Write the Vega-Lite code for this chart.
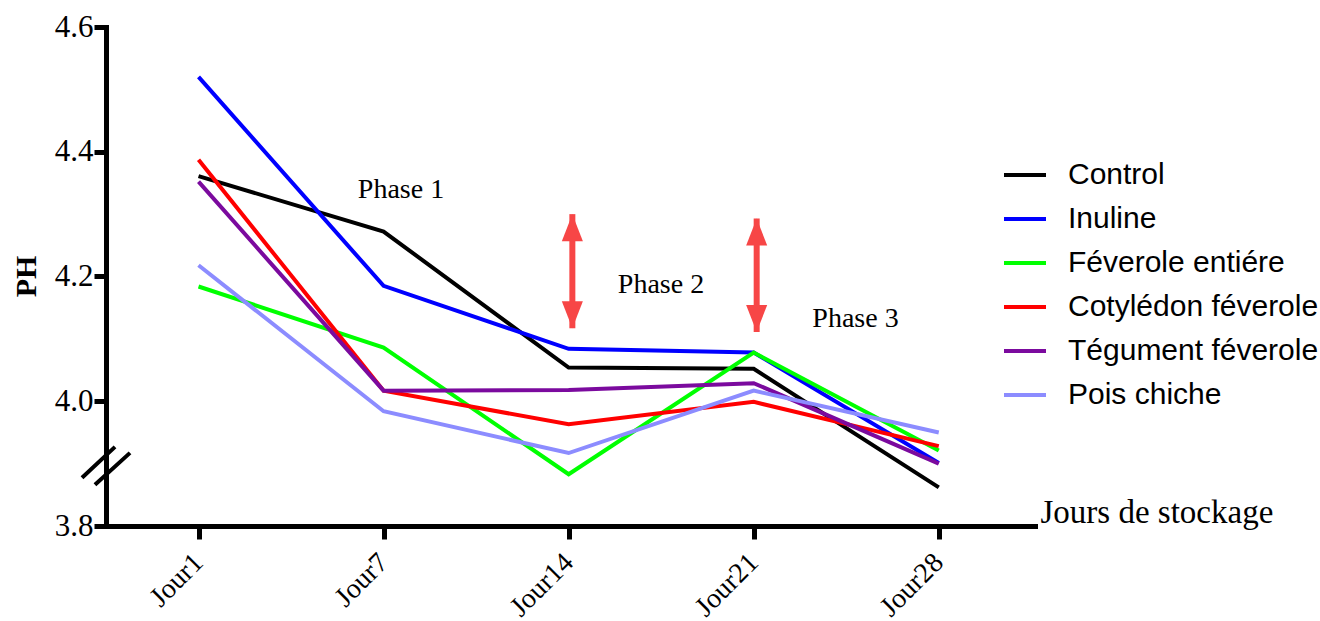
{
  "$schema": "https://vega.github.io/schema/vega-lite/v6.json",
  "width": 929,
  "height": 499,
  "autosize": "none",
  "padding": {"left": 106, "top": 27, "right": 285, "bottom": 95},
  "background": "white",
  "config": {"view": {"stroke": null}, "font": "Liberation Serif"},
  "datasets": {
    "mesures": [
      {"traitement": "Control", "jour": "Jour1", "rang": 0, "ph": 4.361},
      {"traitement": "Control", "jour": "Jour7", "rang": 1, "ph": 4.272},
      {"traitement": "Control", "jour": "Jour14", "rang": 2, "ph": 4.054},
      {"traitement": "Control", "jour": "Jour21", "rang": 3, "ph": 4.052},
      {"traitement": "Control", "jour": "Jour28", "rang": 4, "ph": 3.862},
      {"traitement": "Inuline", "jour": "Jour1", "rang": 0, "ph": 4.52},
      {"traitement": "Inuline", "jour": "Jour7", "rang": 1, "ph": 4.185},
      {"traitement": "Inuline", "jour": "Jour14", "rang": 2, "ph": 4.084},
      {"traitement": "Inuline", "jour": "Jour21", "rang": 3, "ph": 4.078},
      {"traitement": "Inuline", "jour": "Jour28", "rang": 4, "ph": 3.901},
      {"traitement": "Féverole entiére", "jour": "Jour1", "rang": 0, "ph": 4.184},
      {"traitement": "Féverole entiére", "jour": "Jour7", "rang": 1, "ph": 4.086},
      {"traitement": "Féverole entiére", "jour": "Jour14", "rang": 2, "ph": 3.883},
      {"traitement": "Féverole entiére", "jour": "Jour21", "rang": 3, "ph": 4.078},
      {"traitement": "Féverole entiére", "jour": "Jour28", "rang": 4, "ph": 3.921},
      {"traitement": "Cotylédon féverole", "jour": "Jour1", "rang": 0, "ph": 4.387},
      {"traitement": "Cotylédon féverole", "jour": "Jour7", "rang": 1, "ph": 4.017},
      {"traitement": "Cotylédon féverole", "jour": "Jour14", "rang": 2, "ph": 3.963},
      {"traitement": "Cotylédon féverole", "jour": "Jour21", "rang": 3, "ph": 3.999},
      {"traitement": "Cotylédon féverole", "jour": "Jour28", "rang": 4, "ph": 3.928},
      {"traitement": "Tégument féverole", "jour": "Jour1", "rang": 0, "ph": 4.352},
      {"traitement": "Tégument féverole", "jour": "Jour7", "rang": 1, "ph": 4.017},
      {"traitement": "Tégument féverole", "jour": "Jour14", "rang": 2, "ph": 4.018},
      {"traitement": "Tégument féverole", "jour": "Jour21", "rang": 3, "ph": 4.029},
      {"traitement": "Tégument féverole", "jour": "Jour28", "rang": 4, "ph": 3.9},
      {"traitement": "Pois chiche", "jour": "Jour1", "rang": 0, "ph": 4.218},
      {"traitement": "Pois chiche", "jour": "Jour7", "rang": 1, "ph": 3.984},
      {"traitement": "Pois chiche", "jour": "Jour14", "rang": 2, "ph": 3.917},
      {"traitement": "Pois chiche", "jour": "Jour21", "rang": 3, "ph": 4.017},
      {"traitement": "Pois chiche", "jour": "Jour28", "rang": 4, "ph": 3.95}
    ],
    "phases": [
      {"texte": "Phase 1", "rang": 1.094, "ph": 4.326},
      {"texte": "Phase 2", "rang": 2.499, "ph": 4.174},
      {"texte": "Phase 3", "rang": 3.55, "ph": 4.119}
    ],
    "fleches": [
      {"rang": 2.02, "haut": 4.3, "bas": 4.117},
      {"rang": 3.016, "haut": 4.293, "bas": 4.111}
    ],
    "coupure": [
      {"ph": 3.898}
    ]
  },
  "layer": [
    {
      "data": {"name": "mesures"},
      "mark": {"type": "line", "strokeWidth": 4},
      "encoding": {
        "x": {
          "field": "rang",
          "type": "quantitative",
          "scale": {"domain": [-0.5, 4.52], "nice": false, "zero": false},
          "axis": {
            "values": [0, 1, 2, 3, 4],
            "labelExpr": "['Jour1','Jour7','Jour14','Jour21','Jour28'][datum.value]",
            "labelAngle": -45,
            "labelAlign": "right",
            "labelBaseline": "middle",
            "labelFont": "Liberation Serif",
            "labelFontSize": 28,
            "labelColor": "black",
            "labelPadding": 19,
            "labelFlush": false,
            "labelOverlap": false,
            "grid": false,
            "domainColor": "black",
            "domainWidth": 5,
            "domainCap": "square",
            "tickColor": "black",
            "tickWidth": 5,
            "tickSize": 13,
            "title": "Jours de stockage",
            "titleFont": "Liberation Serif",
            "titleFontSize": 33,
            "titleFontWeight": "normal",
            "titleColor": "black",
            "titleX": 934,
            "titleY": -4,
            "titleAlign": "left",
            "titleBaseline": "alphabetic",
            "titleAnchor": null
          }
        },
        "y": {
          "field": "ph",
          "type": "quantitative",
          "scale": {"domain": [3.8, 4.6], "nice": false, "zero": false},
          "axis": {
            "values": [3.8, 4.0, 4.2, 4.4, 4.6],
            "format": ".1f",
            "labelFont": "Liberation Serif",
            "labelFontSize": 31,
            "labelColor": "black",
            "labelPadding": 1,
            "labelFlush": false,
            "grid": false,
            "domainColor": "black",
            "domainWidth": 5,
            "domainCap": "square",
            "tickColor": "black",
            "tickWidth": 5,
            "tickSize": 12,
            "title": "PH",
            "titleFont": "Liberation Serif",
            "titleFontSize": 30,
            "titleFontWeight": "bold",
            "titleColor": "black",
            "titleAngle": -90,
            "titleX": -80,
            "titleY": 249,
            "titleAlign": "center",
            "titleBaseline": "middle"
          }
        },
        "color": {
          "field": "traitement",
          "type": "nominal",
          "sort": null,
          "scale": {
            "domain": ["Control", "Inuline", "Féverole entiére", "Cotylédon féverole", "Tégument féverole", "Pois chiche"],
            "range": ["#000000", "#0000ff", "#00ff00", "#ff0000", "#7b0a9e", "#8c8cff"]
          },
          "legend": {
            "orient": "none",
            "legendX": 896,
            "legendY": 125,
            "title": null,
            "padding": 0,
            "symbolType": "stroke",
            "symbolSize": 1764,
            "symbolStrokeWidth": 4,
            "labelFont": "Liberation Sans",
            "labelFontSize": 30,
            "labelColor": "black",
            "labelOffset": 20,
            "labelLimit": 400,
            "rowPadding": 6
          }
        }
      }
    },
    {
      "data": {"name": "fleches"},
      "mark": {"type": "rule", "color": "#f74646", "strokeWidth": 6},
      "encoding": {
        "x": {"field": "rang", "type": "quantitative"},
        "y": {"field": "haut", "type": "quantitative"},
        "y2": {"field": "bas"}
      }
    },
    {
      "data": {"name": "fleches"},
      "mark": {"type": "point", "shape": "M0,0L0.78,2L-0.78,2Z", "size": 729, "filled": true, "opacity": 1, "color": "#f74646", "strokeWidth": 0},
      "encoding": {
        "x": {"field": "rang", "type": "quantitative"},
        "y": {"field": "haut", "type": "quantitative"}
      }
    },
    {
      "data": {"name": "fleches"},
      "mark": {"type": "point", "shape": "M0,0L0.78,-2L-0.78,-2Z", "size": 729, "filled": true, "opacity": 1, "color": "#f74646", "strokeWidth": 0},
      "encoding": {
        "x": {"field": "rang", "type": "quantitative"},
        "y": {"field": "bas", "type": "quantitative"}
      }
    },
    {
      "data": {"name": "phases"},
      "mark": {"type": "text", "font": "Liberation Serif", "fontSize": 28, "color": "black", "align": "center", "baseline": "alphabetic"},
      "encoding": {
        "x": {"field": "rang", "type": "quantitative"},
        "y": {"field": "ph", "type": "quantitative"},
        "text": {"field": "texte"}
      }
    },
    {
      "data": {"name": "coupure"},
      "mark": {"type": "point", "shape": "M-1,0.54L0.375,-0.75M-0.46,0.83L1,-0.5", "size": 2304, "filled": false, "opacity": 1, "color": "black", "strokeWidth": 4},
      "encoding": {
        "x": {"value": 0},
        "y": {"field": "ph", "type": "quantitative"}
      }
    }
  ]
}
